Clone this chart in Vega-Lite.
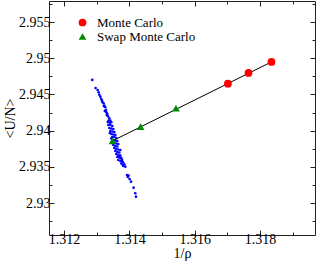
{
  "$schema": "https://vega.github.io/schema/vega-lite/v6.json",
  "autosize": {"type": "none"},
  "padding": {"left": 49, "top": 1, "right": 1, "bottom": 31},
  "width": 266,
  "height": 234,
  "config": {
    "font": "Liberation Serif",
    "view": {"stroke": "#222", "strokeWidth": 1},
    "axis": {
      "labelFont": "Liberation Serif",
      "titleFont": "Liberation Serif",
      "labelFontSize": 14,
      "titleFontSize": 14,
      "titleFontWeight": "normal",
      "labelColor": "#000",
      "titleColor": "#000",
      "tickColor": "#222",
      "domain": false,
      "grid": false
    }
  },
  "datasets": {
    "blue": [
      {"x": 1.312865, "y": 2.947003}, {"x": 1.312966, "y": 2.945898}, {"x": 1.313028, "y": 2.945622},
      {"x": 1.313058, "y": 2.945304}, {"x": 1.313079, "y": 2.944973}, {"x": 1.313110, "y": 2.944697},
      {"x": 1.313141, "y": 2.944379}, {"x": 1.313162, "y": 2.944144}, {"x": 1.313211, "y": 2.943785},
      {"x": 1.313171, "y": 2.943965}, {"x": 1.313232, "y": 2.943454}, {"x": 1.313263, "y": 2.943233},
      {"x": 1.313217, "y": 2.943412}, {"x": 1.313284, "y": 2.942860}, {"x": 1.313294, "y": 2.942542},
      {"x": 1.313248, "y": 2.942722}, {"x": 1.313324, "y": 2.942308}, {"x": 1.313346, "y": 2.941990},
      {"x": 1.313309, "y": 2.942170}, {"x": 1.313385, "y": 2.941714}, {"x": 1.313364, "y": 2.941382},
      {"x": 1.313416, "y": 2.941382}, {"x": 1.313446, "y": 2.941161}, {"x": 1.313401, "y": 2.941065},
      {"x": 1.313339, "y": 2.941203},
      {"x": 1.313355, "y": 2.940789}, {"x": 1.313416, "y": 2.940789}, {"x": 1.313477, "y": 2.940650},
      {"x": 1.313385, "y": 2.940374}, {"x": 1.313446, "y": 2.940305}, {"x": 1.313508, "y": 2.940236},
      {"x": 1.313416, "y": 2.939960}, {"x": 1.313477, "y": 2.939891}, {"x": 1.313538, "y": 2.939822},
      {"x": 1.313401, "y": 2.939684}, {"x": 1.313446, "y": 2.939546}, {"x": 1.313508, "y": 2.939477},
      {"x": 1.313569, "y": 2.939408}, {"x": 1.313477, "y": 2.939131}, {"x": 1.313538, "y": 2.939131},
      {"x": 1.313599, "y": 2.938993}, {"x": 1.313446, "y": 2.938924}, {"x": 1.313508, "y": 2.938717},
      {"x": 1.313569, "y": 2.938648}, {"x": 1.313630, "y": 2.938579}, {"x": 1.313492, "y": 2.938441},
      {"x": 1.313538, "y": 2.938303}, {"x": 1.313599, "y": 2.938234}, {"x": 1.313660, "y": 2.938165},
      {"x": 1.313508, "y": 2.938027}, {"x": 1.313569, "y": 2.937888}, {"x": 1.313630, "y": 2.937819},
      {"x": 1.313538, "y": 2.937612}, {"x": 1.313599, "y": 2.937474}, {"x": 1.313660, "y": 2.937405},
      {"x": 1.313722, "y": 2.937336}, {"x": 1.313569, "y": 2.937198}, {"x": 1.313630, "y": 2.937060},
      {"x": 1.313691, "y": 2.936991}, {"x": 1.313599, "y": 2.936784}, {"x": 1.313660, "y": 2.936646},
      {"x": 1.313722, "y": 2.936576}, {"x": 1.313630, "y": 2.936369}, {"x": 1.313691, "y": 2.936300},
      {"x": 1.313752, "y": 2.936231}, {"x": 1.313660, "y": 2.935955}, {"x": 1.313722, "y": 2.935817},
      {"x": 1.313783, "y": 2.935748}, {"x": 1.313700, "y": 2.936507}, {"x": 1.313743, "y": 2.936190},
      {"x": 1.313774, "y": 2.935955}, {"x": 1.313804, "y": 2.935637}, {"x": 1.313844, "y": 2.935361},
      {"x": 1.313752, "y": 2.935472}, {"x": 1.313813, "y": 2.935126}, {"x": 1.313875, "y": 2.935030},
      {"x": 1.313798, "y": 2.935265},
      {"x": 1.313927, "y": 2.933884}, {"x": 1.313975, "y": 2.933787}, {"x": 1.313951, "y": 2.933607},
      {"x": 1.314006, "y": 2.933331}, {"x": 1.314049, "y": 2.932958}, {"x": 1.314128, "y": 2.932130},
      {"x": 1.314180, "y": 2.931356}, {"x": 1.314202, "y": 2.930887}
    ],
    "fit": [
      {"x": 1.31354, "y": 2.93872},
      {"x": 1.31836, "y": 2.94952}
    ],
    "mc": [
      {"x": 1.317015, "y": 2.946492, "series": "Monte Carlo"},
      {"x": 1.317645, "y": 2.947970, "series": "Monte Carlo"},
      {"x": 1.318348, "y": 2.949489, "series": "Monte Carlo"},
      {"x": 1.313486, "y": 2.938579, "series": "Swap Monte Carlo"},
      {"x": 1.314342, "y": 2.940554, "series": "Swap Monte Carlo"},
      {"x": 1.315425, "y": 2.943095, "series": "Swap Monte Carlo"}
    ]
  },
  "layer": [
    {
      "data": {"name": "blue"},
      "mark": {"type": "circle", "color": "#0000ff", "size": 7, "opacity": 1},
      "encoding": {
        "x": {"field": "x", "type": "quantitative",
          "scale": {"domain": [1.31154, 1.31968], "nice": false, "zero": false},
          "axis": {"orient": "bottom", "values": [1.312, 1.314, 1.316, 1.318], "format": ".3~f",
            "title": "1/ρ", "tickSize": -5, "labelPadding": 2, "titlePadding": 0}},
        "y": {"field": "y", "type": "quantitative",
          "scale": {"domain": [2.9256, 2.9579], "nice": false, "zero": false},
          "axis": {"orient": "left", "values": [2.93, 2.935, 2.94, 2.945, 2.95, 2.955], "format": ".3~f",
            "title": "<U/N>", "tickSize": -5, "labelPadding": 4, "titlePadding": 1}}
      }
    },
    {
      "data": {"name": "fit"},
      "mark": {"type": "line", "color": "#000", "strokeWidth": 1},
      "encoding": {
        "x": {"field": "x", "type": "quantitative",
          "axis": {"orient": "top", "values": [1.312, 1.314, 1.316, 1.318], "labels": false, "title": null, "tickSize": -5}},
        "y": {"field": "y", "type": "quantitative",
          "axis": {"orient": "right", "values": [2.93, 2.935, 2.94, 2.945, 2.95, 2.955], "labels": false, "title": null, "tickSize": -5}}
      }
    },
    {
      "data": {"name": "fit"},
      "mark": {"type": "point", "opacity": 0},
      "encoding": {
        "x": {"field": "x", "type": "quantitative",
          "axis": {"orient": "bottom", "values": [1.313, 1.315, 1.317, 1.319], "labels": false, "title": null, "tickSize": -3}},
        "y": {"field": "y", "type": "quantitative",
          "axis": {"orient": "left", "values": [2.9275, 2.9325, 2.9375, 2.9425, 2.9475, 2.9525, 2.9575], "labels": false, "title": null, "tickSize": -3}}
      }
    },
    {
      "data": {"name": "fit"},
      "mark": {"type": "point", "opacity": 0},
      "encoding": {
        "x": {"field": "x", "type": "quantitative",
          "axis": {"orient": "top", "values": [1.313, 1.315, 1.317, 1.319], "labels": false, "title": null, "tickSize": -3}},
        "y": {"field": "y", "type": "quantitative",
          "axis": {"orient": "right", "values": [2.9275, 2.9325, 2.9375, 2.9425, 2.9475, 2.9525, 2.9575], "labels": false, "title": null, "tickSize": -3}}
      }
    },
    {
      "data": {"name": "mc"},
      "mark": {"type": "point", "filled": true, "opacity": 1, "size": 60},
      "encoding": {
        "x": {"field": "x", "type": "quantitative", "axis": null},
        "y": {"field": "y", "type": "quantitative", "axis": null},
        "color": {"field": "series", "type": "nominal",
          "scale": {"domain": ["Monte Carlo", "Swap Monte Carlo"], "range": ["#ff0000", "#008b00"]},
          "legend": {"orient": "none", "legendX": 27, "legendY": 15, "title": null, "padding": 0,
            "labelFont": "Liberation Serif", "labelFontSize": 13, "labelColor": "#000",
            "labelOffset": 8, "rowPadding": -2, "symbolSize": 60}},
        "shape": {"field": "series", "type": "nominal",
          "scale": {"domain": ["Monte Carlo", "Swap Monte Carlo"], "range": ["circle", "triangle-up"]},
          "legend": null}
      }
    }
  ],
  "resolve": {"axis": {"x": "independent", "y": "independent"}}
}
